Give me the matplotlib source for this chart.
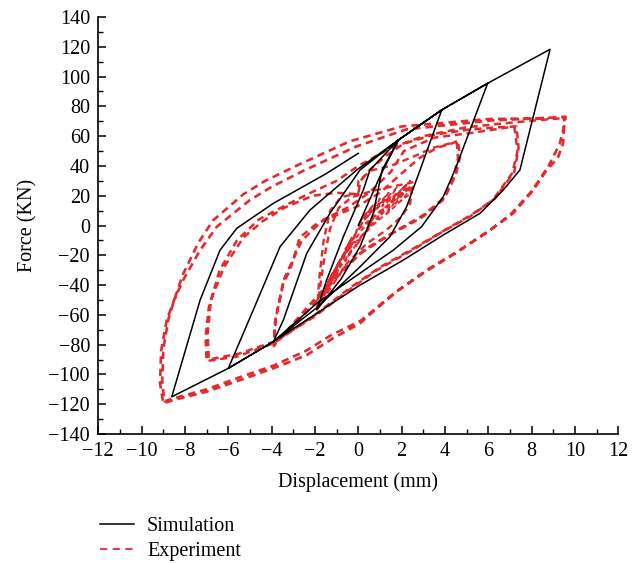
import matplotlib
matplotlib.use("Agg")
import matplotlib.pyplot as plt
from matplotlib.lines import Line2D
from matplotlib.ticker import MultipleLocator

plt.rcParams['font.family'] = ['Liberation Serif', 'DejaVu Serif']

# ---------------- Simulation (black, solid) ----------------
sim_x = [0.0, 1.0, 1.85,
         1.1, 0.69, 0.08, -0.8, -1.92,
         -1.46, -0.69, 0.23, 0.54, 1.85, 3.85,
         2.85, 2.23, 1.46, 0.08, -1.9, -3.92,
         -3.46, -2.38, -1.31, 0.08, 1.85, 3.85, 5.97,
         4.46, 3.92, 2.92, 1.62, 0.08, -1.9, -3.92, -6.0,
         -4.85, -3.61, -2.23, -0.07, 1.85, 3.85, 5.97, 8.85,
         7.46, 6.69, 5.62, 3.92, 2.08, 0.08, -3.92, -6.0, -8.61,
         -7.3, -6.38, -5.61, -3.92, -1.46, 0.0]
sim_y = [0.0, 33.0, 57.4,
         37.3, 8.2, -14.2, -36.0, -56.7,
         -36.6, -7.5, 23.8, 37.3, 57.4, 77.6,
         37.3, 12.6, -7.5, -27.7, -55.0, -78.0,
         -63.5, -18.7, 8.2, 37.3, 57.4, 77.6, 95.5,
         37.3, 19.3, -0.8, -16.5, -32.0, -52.0, -78.0, -95.9,
         -56.8, -14.2, 10.4, 37.3, 57.4, 77.6, 95.5, 118.3,
         37.3, 23.8, 8.2, -6.4, -23.2, -40.0, -78.0, -95.9, -115.0,
         -50.0, -16.5, -1.9, 14.9, 35.0, 48.5]

# ---------------- Experiment (red, dashed) ----------------
# small cycles near the origin
exp_small_x = [0.0, 0.4, 0.1, 0.7, 0.3, 1.0, 0.6, 1.4, 0.9, 1.8, 1.3, 2.2, 1.6, 2.4, 1.9, 1.2,
               0.6, 0.0, -0.4, -0.1, -0.7, -0.3, -1.0, -0.6, -1.3, -0.9, -1.6, -1.2, -1.9,
               -1.4, -0.9, -0.4, 0.1, 0.6, 1.1, 1.6, 2.1, 2.5, 2.0, 1.4, 0.8, 0.2, -0.3, -0.8,
               -1.3, -1.9]
exp_small_y = [0, 9, 3, 14, 6, 18, 9, 22, 12, 26, 15, 27, 18, 30, 20, 12,
               5, -3, -12, -6, -20, -12, -27, -18, -35, -25, -44, -32, -55,
               -40, -28, -15, -4, 4, 10, 16, 22, 26, 17, 9, 2, -6, -14, -22,
               -38, -56]
exp_small2_x = [-1.5, -1.0, -1.3, -0.7, -1.0, -0.3, -0.6, 0.2, -0.1, 0.6, 0.3, 1.0, 0.7, 1.4,
                1.1, 1.8, 1.5, 2.2, 1.9, 2.4,
                2.3, 1.7, 2.0, 1.3, 1.6, 0.9, 1.2, 0.4, 0.7, -0.1, 0.2, -0.6, -0.3, -1.1,
                -0.8, -1.6]
exp_small2_y = [-45, -30, -38, -20, -28, -8, -16, 2, -4, 10, 4, 15, 9, 19,
                13, 22, 16, 25, 18, 27,
                20, 14, 22, 8, 17, 4, 12, -4, 5, -14, -6, -24, -16, -34,
                -26, -48]

# cycle to about +-2.4 mm
exp_c2_x = [-1.9, -1.75, -1.55, -1.3, -0.9, -0.3, 0.6, 1.5, 2.2, 2.5, 2.4, 2.0, 1.3, 0.4, -0.5, -1.2, -1.9,
            -1.8, -1.6, -1.3, -0.8, -0.2, 0.0, 0.0, 0.6, 1.5, 2.5, 3.4, 4.2, 4.55]
exp_c2_y = [-56, -40, -20, -2, 12, 19, 23, 26, 28, 29, 15, 6, -3, -12, -25, -40, -56,
            -35, -10, 10, 19, 21, 21, 30, 37, 40, 46, 52, 55, 56]

# cycles to about +-4.5 mm
exp_c4_x = [4.55, 4.6, 4.4, 3.9, 2.9, 1.6, 0.1, -1.0, -2.2, -3.0, -3.9,
            -3.85, -3.5, -3.15, -2.7, -1.9, -0.84, -0.07, 1.0, 2.0, 2.8, 3.6, 4.3, 4.6,
            4.7, 4.5, 4.0, 3.0, 1.8, 0.3, -1.0, -2.3, -3.2, -3.9,
            -3.8, -3.4, -2.6, -1.6, -0.5, 0.5, 1.5, 2.1, 3.5, 5.15, 6.5, 7.2]
exp_c4_y = [56, 45, 33, 17, 5, -5, -18.7, -35, -55, -68, -80,
            -65, -40, -30, -8, 1.5, 8, 12.6, 22, 35, 45, 52, 55, 57,
            46, 34, 19, 7, -3, -16, -33, -54, -69, -81,
            -62, -35, -10, 4, 12, 22, 36, 50, 59, 62, 65, 66.5]

# cycles to about +-7 mm
exp_c7_x = [7.2, 7.35, 7.1, 6.2, 5.15, 3.9, 2.5, 0.85, -0.5, -2.0, -3.9, -5.5, -6.9,
            -6.95, -6.8, -6.2, -5.3, -4.4, -3.4, -2.1, -1.0, 0.0, 0.1, 0.5, 1.3, 2.1, 3.5, 5.15, 6.5, 7.3,
            7.4, 7.2, 6.3, 5.2, 4.0, 2.6, 1.0, -0.4, -2.0, -3.9, -5.6, -7.0,
            -7.05, -6.9, -6.4, -5.6, -4.6, -3.3, -2.2, -1.0, 0.0, 1.5, 3.0, 5.0, 7.0, 8.5, 9.4]
exp_c7_y = [66.5, 50, 35, 17, 6, -4, -16.5, -30, -44, -61, -78, -86, -90,
            -72, -50, -28, -8, 3, 12, 20, 22, 21, 30, 37, 47, 55, 61, 64.5, 66, 66.5,
            52, 36, 18, 7, -3, -15, -28, -42, -60, -79, -88, -91,
            -75, -55, -30, -10, 4, 14, 22, 30, 40, 52, 60, 66, 69, 71, 72]

# cycles to about +-9.5 mm
exp_c9_x = [9.4, 9.57, 9.55, 9.3, 8.69, 8.08, 7.15, 6.08, 4.69, 3.16, 1.8, 0.9, 0.08, -1.2, -2.38,
            -3.92, -5.46, -7.0, -8.54, -9.0,
            -9.15, -9.1, -8.84, -8.5, -8.08, -7.3, -6.53, -5.0, -4.0, -2.5, -0.1, 2.2, 6.1, 9.0, 9.5,
            9.5, 9.45, 9.2, 8.6, 8.0, 7.0, 6.0, 4.6, 3.1, 1.7, 0.1, -1.3, -2.4, -3.9, -5.5, -7.0, -8.5, -8.95,
            -9.05, -9.0, -8.75, -8.45, -8.1, -7.4, -6.7, -5.3, -4.3, -2.8, -0.4, 2.0, 6.0, 8.8]
exp_c9_y = [72, 73, 70, 55, 37.3, 23.8, 8.2, -3, -16.5, -29.9, -44, -55, -65.7, -76, -87,
            -95.9, -103.8, -111.6, -117.2, -119.4,
            -106, -84, -63.5, -50, -36.6, -16.5, -0.8, 17.1, 26, 37, 53, 64.5, 70.5, 72.5, 73,
            68, 55, 45, 36, 23, 7, -4, -17.5, -31, -45, -64, -74, -84, -94, -102, -110, -116, -118,
            -105, -83, -62, -48, -33, -12, 3.5, 21, 30, 40.5, 56.5, 66.5, 71.5, 72]

RED = '#e42a2c'

fig = plt.figure(figsize=(6.4, 5.63), dpi=100)
ax = fig.add_axes([0.1536, 0.2291, 0.8125, 0.7407])

dash = (2.8, 1.9)
exp_sets = [(exp_small_x, exp_small_y, 1.3), (exp_small2_x, exp_small2_y, 1.3),
            (exp_c2_x, exp_c2_y, 1.7), (exp_c4_x, exp_c4_y, 1.8),
            (exp_c7_x, exp_c7_y, 1.8), (exp_c9_x, exp_c9_y, 1.9)]
for xs, ys, lw in exp_sets:
    ax.plot(xs, ys, color=RED, lw=lw, dashes=dash, zorder=2)

ax.plot(sim_x, sim_y, color='black', lw=1.1, zorder=3)

ax.set_xlim(-12, 12)
ax.set_ylim(-140, 140)
ax.xaxis.set_major_locator(MultipleLocator(2))
ax.xaxis.set_minor_locator(MultipleLocator(1))
ax.yaxis.set_major_locator(MultipleLocator(20))
ax.yaxis.set_minor_locator(MultipleLocator(10))
for s in ['top', 'right']:
    ax.spines[s].set_visible(False)
for s in ['left', 'bottom']:
    ax.spines[s].set_linewidth(1.2)
ax.tick_params(which='major', direction='in', length=6, width=1.1, labelsize=14.5, pad=6)
ax.tick_params(which='minor', direction='in', length=3.5, width=1.0)
ax.set_xlabel('Displacement (mm)', fontsize=14.5, labelpad=8)
ax.set_ylabel('Force (KN)', fontsize=14.5, labelpad=8)

handles = [Line2D([], [], color='black', lw=1.1),
           Line2D([], [], color=RED, lw=1.3, dashes=(4, 3))]
fig.legend(handles, ['Simulation', 'Experiment'], loc='upper left',
           bbox_to_anchor=(0.14, 0.10), frameon=False, fontsize=14.5,
           handlelength=1.7, handletextpad=0.65, labelspacing=0.3, borderpad=0.0)

fig.savefig('out.png', dpi=100)
